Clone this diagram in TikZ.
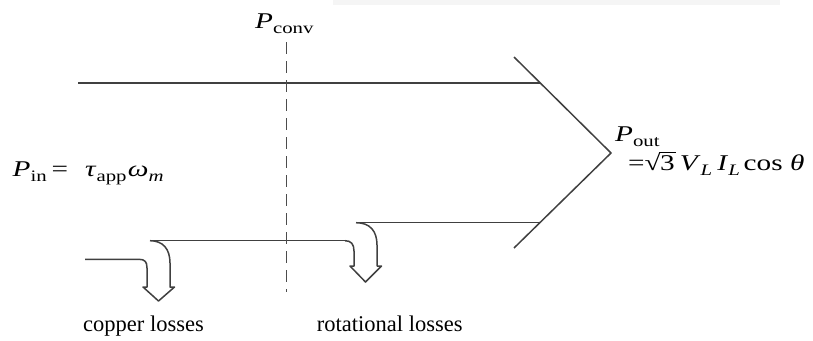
\documentclass[tikz,border=0pt]{standalone}
\usepackage{fontspec}
\setmainfont{Liberation Serif}
\newcommand{\mysub}[1]{\raisebox{-5pt}{\fontsize{16}{16}\selectfont #1}}
\newcommand{\myroot}[1]{√\kern-1.5pt\rlap{\rule[17.5pt]{13pt}{0.9pt}}\kern1pt #1}
\newcommand{\wide}[1]{\scalebox{1.3}[1]{#1}}
\tikzset{
  flow/.style={line width=1.5pt, draw=black!75, line join=round},
  lbl/.style={anchor=base west, inner sep=0pt, font=\fontsize{22.5}{26}\selectfont},
  eq/.style={anchor=base west, inner sep=0pt, font=\fontsize{22.5}{26}\selectfont}
}
\begin{document}
\begin{tikzpicture}[x=1pt,y=-1pt]
\useasboundingbox (0,0) rectangle (813,340);
\fill[black!4] (333,0) rectangle (780,5);
% coordinates
\coordinate (tl) at (78,83);
\coordinate (tr) at (540,83);
\coordinate (ut) at (514,57);
\coordinate (tip) at (611,153);
\coordinate (lt) at (514,248);
\coordinate (br) at (540,222.7);
% main outline
\draw[flow] (tl) -- (tr);
\draw[flow] (ut) -- (tip) -- (lt);
% rotational losses branch
\draw[flow] (br) -- (356,222.7);
\draw[flow] (356,222.7) .. controls (370,222.7) and (377,231) .. (377,245) -- (377,266) -- (381.5,266) -- (365.5,282) -- (350,266) -- (354,266) -- (354,251) .. controls (354,244) and (351,240.7) .. (345,240.7);
\draw[flow] (345,240.7) -- (150,240.7);
% copper losses branch
\draw[flow] (150,240.7) .. controls (163,240.7) and (170,249) .. (170,263) -- (170,287) -- (174.5,287) -- (158.5,301) -- (143,287) -- (147,287) -- (147,268) .. controls (147,262) and (145,259.3) .. (139,259.3) -- (85,259.3);
% dashed conversion line
\draw[line width=1.5pt, draw=black!70, dash pattern=on 12pt off 7pt] (286.5,42) -- (286.5,292);
% labels
\node[eq] (pconv) at (255,28.3) {\wide{\textit{P}\mysub{conv}}};
\node[eq] (pin) at (12.5,176) {\wide{\textit{P}\mysub{in}\,=\,\, \textit{τ}\mysub{app}\kern1pt\textit{ω}\mysub{\textit{m}}}};
\node[eq] (pout) at (615,141.5) {\wide{\textit{P}\mysub{out}}};
\node[eq] (pout2) at (628,170) {\wide{=\myroot{3}\kern4pt\textit{V}\mysub{\textit{L}}\kern4pt\textit{I}\mysub{\textit{L}}\kern3pt cos \textit{θ}}};
\node[lbl] (cu) at (83,331.5) {copper losses};
\node[lbl] (rot) at (316.7,331.5) {rotational losses};
\end{tikzpicture}
\end{document}
